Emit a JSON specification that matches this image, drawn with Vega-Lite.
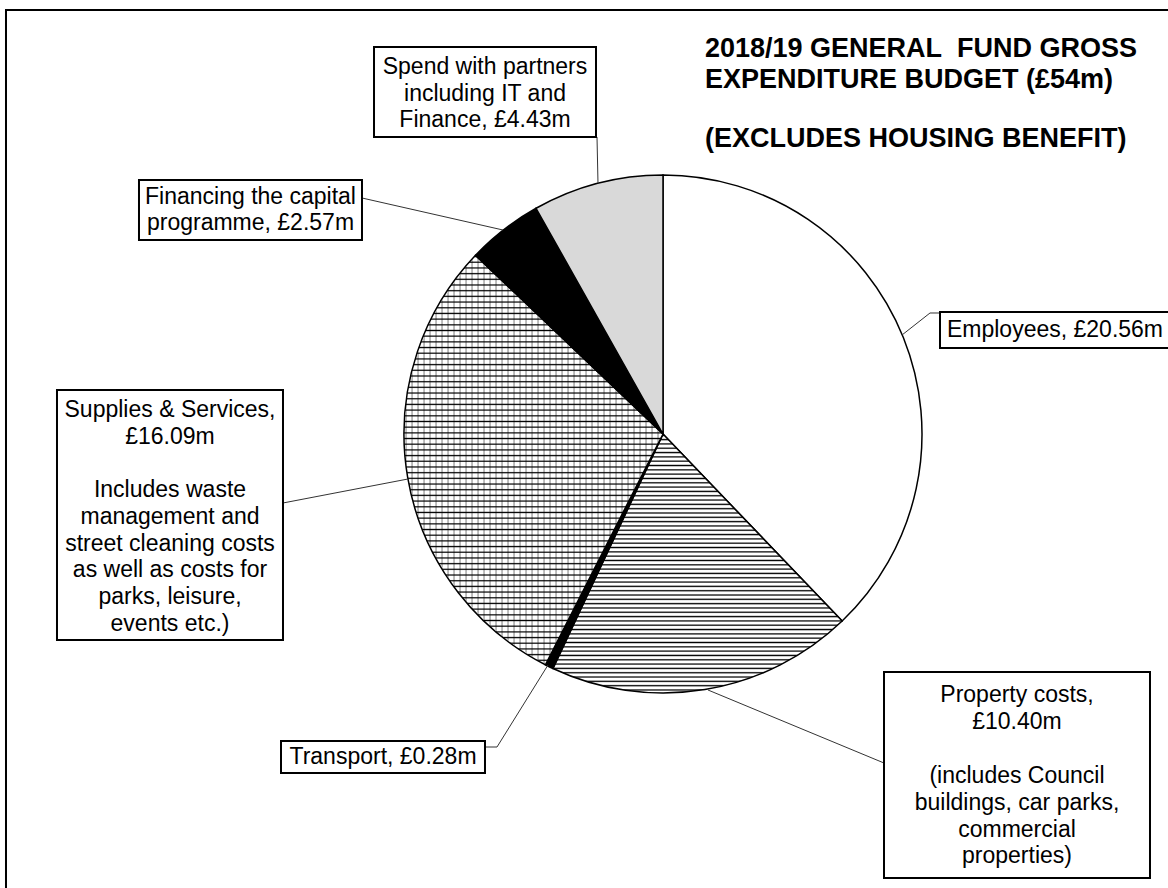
{
  "$schema": "https://vega.github.io/schema/vega-lite/v6.json",
  "width": 1010,
  "height": 868,
  "padding": {"left": 158, "top": 0, "right": 0, "bottom": 20},
  "autosize": {"type": "none"},
  "background": "white",
  "config": {"view": {"stroke": null}, "font": "Liberation Sans"},
  "data": {"values": [
    {"category": "Employees", "value": 20.56, "label": "Employees, £20.56m", "note": ""},
    {"category": "Property costs", "value": 10.40, "label": "Property costs,\n£10.40m", "note": "(includes Council\nbuildings, car parks,\ncommercial\nproperties)"},
    {"category": "Transport", "value": 0.28, "label": "Transport, £0.28m", "note": ""},
    {"category": "Supplies & Services", "value": 16.09, "label": "Supplies & Services,\n£16.09m", "note": "Includes waste\nmanagement and\nstreet cleaning costs\nas well as costs for\nparks, leisure,\nevents etc.)"},
    {"category": "Financing the capital programme", "value": 2.57, "label": "Financing the capital\nprogramme, £2.57m", "note": ""},
    {"category": "Spend with partners", "value": 4.43, "label": "Spend with partners\nincluding IT and\nFinance, £4.43m", "note": ""}
  ]},
  "layer": [
    {
      "mark": {"type": "arc", "radius": 259, "stroke": "#000", "strokeWidth": 1.5},
      "encoding": {
        "theta": {"field": "value", "type": "quantitative", "stack": true},
        "fill": {
          "condition": [
            {"test": "datum.category === 'Property costs'", "value": {"gradient": "linear", "x1": 0, "y1": 0, "x2": 0, "y2": 1, "stops": [
              {"offset":0,"color":"#fff"},{"offset":0.005,"color":"#000"},{"offset":0.01,"color":"#fff"},
              {"offset":0.0167,"color":"#fff"},{"offset":0.0217,"color":"#000"},{"offset":0.0267,"color":"#fff"},
              {"offset":0.0333,"color":"#fff"},{"offset":0.0383,"color":"#000"},{"offset":0.0433,"color":"#fff"},
              {"offset":0.05,"color":"#fff"},{"offset":0.055,"color":"#000"},{"offset":0.06,"color":"#fff"},
              {"offset":0.0667,"color":"#fff"},{"offset":0.0717,"color":"#000"},{"offset":0.0767,"color":"#fff"},
              {"offset":0.0833,"color":"#fff"},{"offset":0.0883,"color":"#000"},{"offset":0.0933,"color":"#fff"},
              {"offset":0.1,"color":"#fff"},{"offset":0.105,"color":"#000"},{"offset":0.11,"color":"#fff"},
              {"offset":0.1167,"color":"#fff"},{"offset":0.1217,"color":"#000"},{"offset":0.1267,"color":"#fff"},
              {"offset":0.1333,"color":"#fff"},{"offset":0.1383,"color":"#000"},{"offset":0.1433,"color":"#fff"},
              {"offset":0.15,"color":"#fff"},{"offset":0.155,"color":"#000"},{"offset":0.16,"color":"#fff"},
              {"offset":0.1667,"color":"#fff"},{"offset":0.1717,"color":"#000"},{"offset":0.1767,"color":"#fff"},
              {"offset":0.1833,"color":"#fff"},{"offset":0.1883,"color":"#000"},{"offset":0.1933,"color":"#fff"},
              {"offset":0.2,"color":"#fff"},{"offset":0.205,"color":"#000"},{"offset":0.21,"color":"#fff"},
              {"offset":0.2167,"color":"#fff"},{"offset":0.2217,"color":"#000"},{"offset":0.2267,"color":"#fff"},
              {"offset":0.2333,"color":"#fff"},{"offset":0.2383,"color":"#000"},{"offset":0.2433,"color":"#fff"},
              {"offset":0.25,"color":"#fff"},{"offset":0.255,"color":"#000"},{"offset":0.26,"color":"#fff"},
              {"offset":0.2667,"color":"#fff"},{"offset":0.2717,"color":"#000"},{"offset":0.2767,"color":"#fff"},
              {"offset":0.2833,"color":"#fff"},{"offset":0.2883,"color":"#000"},{"offset":0.2933,"color":"#fff"},
              {"offset":0.3,"color":"#fff"},{"offset":0.305,"color":"#000"},{"offset":0.31,"color":"#fff"},
              {"offset":0.3167,"color":"#fff"},{"offset":0.3217,"color":"#000"},{"offset":0.3267,"color":"#fff"},
              {"offset":0.3333,"color":"#fff"},{"offset":0.3383,"color":"#000"},{"offset":0.3433,"color":"#fff"},
              {"offset":0.35,"color":"#fff"},{"offset":0.355,"color":"#000"},{"offset":0.36,"color":"#fff"},
              {"offset":0.3667,"color":"#fff"},{"offset":0.3717,"color":"#000"},{"offset":0.3767,"color":"#fff"},
              {"offset":0.3833,"color":"#fff"},{"offset":0.3883,"color":"#000"},{"offset":0.3933,"color":"#fff"},
              {"offset":0.4,"color":"#fff"},{"offset":0.405,"color":"#000"},{"offset":0.41,"color":"#fff"},
              {"offset":0.4167,"color":"#fff"},{"offset":0.4217,"color":"#000"},{"offset":0.4267,"color":"#fff"},
              {"offset":0.4333,"color":"#fff"},{"offset":0.4383,"color":"#000"},{"offset":0.4433,"color":"#fff"},
              {"offset":0.45,"color":"#fff"},{"offset":0.455,"color":"#000"},{"offset":0.46,"color":"#fff"},
              {"offset":0.4667,"color":"#fff"},{"offset":0.4717,"color":"#000"},{"offset":0.4767,"color":"#fff"},
              {"offset":0.4833,"color":"#fff"},{"offset":0.4883,"color":"#000"},{"offset":0.4933,"color":"#fff"},
              {"offset":0.5,"color":"#fff"},{"offset":0.505,"color":"#000"},{"offset":0.51,"color":"#fff"},
              {"offset":0.5167,"color":"#fff"},{"offset":0.5217,"color":"#000"},{"offset":0.5267,"color":"#fff"},
              {"offset":0.5333,"color":"#fff"},{"offset":0.5383,"color":"#000"},{"offset":0.5433,"color":"#fff"},
              {"offset":0.55,"color":"#fff"},{"offset":0.555,"color":"#000"},{"offset":0.56,"color":"#fff"},
              {"offset":0.5667,"color":"#fff"},{"offset":0.5717,"color":"#000"},{"offset":0.5767,"color":"#fff"},
              {"offset":0.5833,"color":"#fff"},{"offset":0.5883,"color":"#000"},{"offset":0.5933,"color":"#fff"},
              {"offset":0.6,"color":"#fff"},{"offset":0.605,"color":"#000"},{"offset":0.61,"color":"#fff"},
              {"offset":0.6167,"color":"#fff"},{"offset":0.6217,"color":"#000"},{"offset":0.6267,"color":"#fff"},
              {"offset":0.6333,"color":"#fff"},{"offset":0.6383,"color":"#000"},{"offset":0.6433,"color":"#fff"},
              {"offset":0.65,"color":"#fff"},{"offset":0.655,"color":"#000"},{"offset":0.66,"color":"#fff"},
              {"offset":0.6667,"color":"#fff"},{"offset":0.6717,"color":"#000"},{"offset":0.6767,"color":"#fff"},
              {"offset":0.6833,"color":"#fff"},{"offset":0.6883,"color":"#000"},{"offset":0.6933,"color":"#fff"},
              {"offset":0.7,"color":"#fff"},{"offset":0.705,"color":"#000"},{"offset":0.71,"color":"#fff"},
              {"offset":0.7167,"color":"#fff"},{"offset":0.7217,"color":"#000"},{"offset":0.7267,"color":"#fff"},
              {"offset":0.7333,"color":"#fff"},{"offset":0.7383,"color":"#000"},{"offset":0.7433,"color":"#fff"},
              {"offset":0.75,"color":"#fff"},{"offset":0.755,"color":"#000"},{"offset":0.76,"color":"#fff"},
              {"offset":0.7667,"color":"#fff"},{"offset":0.7717,"color":"#000"},{"offset":0.7767,"color":"#fff"},
              {"offset":0.7833,"color":"#fff"},{"offset":0.7883,"color":"#000"},{"offset":0.7933,"color":"#fff"},
              {"offset":0.8,"color":"#fff"},{"offset":0.805,"color":"#000"},{"offset":0.81,"color":"#fff"},
              {"offset":0.8167,"color":"#fff"},{"offset":0.8217,"color":"#000"},{"offset":0.8267,"color":"#fff"},
              {"offset":0.8333,"color":"#fff"},{"offset":0.8383,"color":"#000"},{"offset":0.8433,"color":"#fff"},
              {"offset":0.85,"color":"#fff"},{"offset":0.855,"color":"#000"},{"offset":0.86,"color":"#fff"},
              {"offset":0.8667,"color":"#fff"},{"offset":0.8717,"color":"#000"},{"offset":0.8767,"color":"#fff"},
              {"offset":0.8833,"color":"#fff"},{"offset":0.8883,"color":"#000"},{"offset":0.8933,"color":"#fff"},
              {"offset":0.9,"color":"#fff"},{"offset":0.905,"color":"#000"},{"offset":0.91,"color":"#fff"},
              {"offset":0.9167,"color":"#fff"},{"offset":0.9217,"color":"#000"},{"offset":0.9267,"color":"#fff"},
              {"offset":0.9333,"color":"#fff"},{"offset":0.9383,"color":"#000"},{"offset":0.9433,"color":"#fff"},
              {"offset":0.95,"color":"#fff"},{"offset":0.955,"color":"#000"},{"offset":0.96,"color":"#fff"},
              {"offset":0.9667,"color":"#fff"},{"offset":0.9717,"color":"#000"},{"offset":0.9767,"color":"#fff"},
              {"offset":0.9833,"color":"#fff"},{"offset":0.9883,"color":"#000"},{"offset":0.9933,"color":"#fff"},
              {"offset":1,"color":"#fff"}
            ]}},
            {"test": "datum.category === 'Supplies & Services'", "value": {"gradient": "linear", "x1": 0, "y1": 0, "x2": 0, "y2": 1, "stops": [
              {"offset":0,"color":"#fff"},{"offset":0.003,"color":"#000"},{"offset":0.006,"color":"#fff"},
              {"offset":0.0139,"color":"#fff"},{"offset":0.0169,"color":"#000"},{"offset":0.0199,"color":"#fff"},
              {"offset":0.0278,"color":"#fff"},{"offset":0.0308,"color":"#000"},{"offset":0.0338,"color":"#fff"},
              {"offset":0.0417,"color":"#fff"},{"offset":0.0447,"color":"#000"},{"offset":0.0477,"color":"#fff"},
              {"offset":0.0556,"color":"#fff"},{"offset":0.0586,"color":"#000"},{"offset":0.0616,"color":"#fff"},
              {"offset":0.0694,"color":"#fff"},{"offset":0.0724,"color":"#000"},{"offset":0.0754,"color":"#fff"},
              {"offset":0.0833,"color":"#fff"},{"offset":0.0863,"color":"#000"},{"offset":0.0893,"color":"#fff"},
              {"offset":0.0972,"color":"#fff"},{"offset":0.1002,"color":"#000"},{"offset":0.1032,"color":"#fff"},
              {"offset":0.1111,"color":"#fff"},{"offset":0.1141,"color":"#000"},{"offset":0.1171,"color":"#fff"},
              {"offset":0.125,"color":"#fff"},{"offset":0.128,"color":"#000"},{"offset":0.131,"color":"#fff"},
              {"offset":0.1389,"color":"#fff"},{"offset":0.1419,"color":"#000"},{"offset":0.1449,"color":"#fff"},
              {"offset":0.1528,"color":"#fff"},{"offset":0.1558,"color":"#000"},{"offset":0.1588,"color":"#fff"},
              {"offset":0.1667,"color":"#fff"},{"offset":0.1697,"color":"#000"},{"offset":0.1727,"color":"#fff"},
              {"offset":0.1806,"color":"#fff"},{"offset":0.1836,"color":"#000"},{"offset":0.1866,"color":"#fff"},
              {"offset":0.1944,"color":"#fff"},{"offset":0.1974,"color":"#000"},{"offset":0.2004,"color":"#fff"},
              {"offset":0.2083,"color":"#fff"},{"offset":0.2113,"color":"#000"},{"offset":0.2143,"color":"#fff"},
              {"offset":0.2222,"color":"#fff"},{"offset":0.2252,"color":"#000"},{"offset":0.2282,"color":"#fff"},
              {"offset":0.2361,"color":"#fff"},{"offset":0.2391,"color":"#000"},{"offset":0.2421,"color":"#fff"},
              {"offset":0.25,"color":"#fff"},{"offset":0.253,"color":"#000"},{"offset":0.256,"color":"#fff"},
              {"offset":0.2639,"color":"#fff"},{"offset":0.2669,"color":"#000"},{"offset":0.2699,"color":"#fff"},
              {"offset":0.2778,"color":"#fff"},{"offset":0.2808,"color":"#000"},{"offset":0.2838,"color":"#fff"},
              {"offset":0.2917,"color":"#fff"},{"offset":0.2947,"color":"#000"},{"offset":0.2977,"color":"#fff"},
              {"offset":0.3056,"color":"#fff"},{"offset":0.3086,"color":"#000"},{"offset":0.3116,"color":"#fff"},
              {"offset":0.3194,"color":"#fff"},{"offset":0.3224,"color":"#000"},{"offset":0.3254,"color":"#fff"},
              {"offset":0.3333,"color":"#fff"},{"offset":0.3363,"color":"#000"},{"offset":0.3393,"color":"#fff"},
              {"offset":0.3472,"color":"#fff"},{"offset":0.3502,"color":"#000"},{"offset":0.3532,"color":"#fff"},
              {"offset":0.3611,"color":"#fff"},{"offset":0.3641,"color":"#000"},{"offset":0.3671,"color":"#fff"},
              {"offset":0.375,"color":"#fff"},{"offset":0.378,"color":"#000"},{"offset":0.381,"color":"#fff"},
              {"offset":0.3889,"color":"#fff"},{"offset":0.3919,"color":"#000"},{"offset":0.3949,"color":"#fff"},
              {"offset":0.4028,"color":"#fff"},{"offset":0.4058,"color":"#000"},{"offset":0.4088,"color":"#fff"},
              {"offset":0.4167,"color":"#fff"},{"offset":0.4197,"color":"#000"},{"offset":0.4227,"color":"#fff"},
              {"offset":0.4306,"color":"#fff"},{"offset":0.4336,"color":"#000"},{"offset":0.4366,"color":"#fff"},
              {"offset":0.4444,"color":"#fff"},{"offset":0.4474,"color":"#000"},{"offset":0.4504,"color":"#fff"},
              {"offset":0.4583,"color":"#fff"},{"offset":0.4613,"color":"#000"},{"offset":0.4643,"color":"#fff"},
              {"offset":0.4722,"color":"#fff"},{"offset":0.4752,"color":"#000"},{"offset":0.4782,"color":"#fff"},
              {"offset":0.4861,"color":"#fff"},{"offset":0.4891,"color":"#000"},{"offset":0.4921,"color":"#fff"},
              {"offset":0.5,"color":"#fff"},{"offset":0.503,"color":"#000"},{"offset":0.506,"color":"#fff"},
              {"offset":0.5139,"color":"#fff"},{"offset":0.5169,"color":"#000"},{"offset":0.5199,"color":"#fff"},
              {"offset":0.5278,"color":"#fff"},{"offset":0.5308,"color":"#000"},{"offset":0.5338,"color":"#fff"},
              {"offset":0.5417,"color":"#fff"},{"offset":0.5447,"color":"#000"},{"offset":0.5477,"color":"#fff"},
              {"offset":0.5556,"color":"#fff"},{"offset":0.5586,"color":"#000"},{"offset":0.5616,"color":"#fff"},
              {"offset":0.5694,"color":"#fff"},{"offset":0.5724,"color":"#000"},{"offset":0.5754,"color":"#fff"},
              {"offset":0.5833,"color":"#fff"},{"offset":0.5863,"color":"#000"},{"offset":0.5893,"color":"#fff"},
              {"offset":0.5972,"color":"#fff"},{"offset":0.6002,"color":"#000"},{"offset":0.6032,"color":"#fff"},
              {"offset":0.6111,"color":"#fff"},{"offset":0.6141,"color":"#000"},{"offset":0.6171,"color":"#fff"},
              {"offset":0.625,"color":"#fff"},{"offset":0.628,"color":"#000"},{"offset":0.631,"color":"#fff"},
              {"offset":0.6389,"color":"#fff"},{"offset":0.6419,"color":"#000"},{"offset":0.6449,"color":"#fff"},
              {"offset":0.6528,"color":"#fff"},{"offset":0.6558,"color":"#000"},{"offset":0.6588,"color":"#fff"},
              {"offset":0.6667,"color":"#fff"},{"offset":0.6697,"color":"#000"},{"offset":0.6727,"color":"#fff"},
              {"offset":0.6806,"color":"#fff"},{"offset":0.6836,"color":"#000"},{"offset":0.6866,"color":"#fff"},
              {"offset":0.6944,"color":"#fff"},{"offset":0.6974,"color":"#000"},{"offset":0.7004,"color":"#fff"},
              {"offset":0.7083,"color":"#fff"},{"offset":0.7113,"color":"#000"},{"offset":0.7143,"color":"#fff"},
              {"offset":0.7222,"color":"#fff"},{"offset":0.7252,"color":"#000"},{"offset":0.7282,"color":"#fff"},
              {"offset":0.7361,"color":"#fff"},{"offset":0.7391,"color":"#000"},{"offset":0.7421,"color":"#fff"},
              {"offset":0.75,"color":"#fff"},{"offset":0.753,"color":"#000"},{"offset":0.756,"color":"#fff"},
              {"offset":0.7639,"color":"#fff"},{"offset":0.7669,"color":"#000"},{"offset":0.7699,"color":"#fff"},
              {"offset":0.7778,"color":"#fff"},{"offset":0.7808,"color":"#000"},{"offset":0.7838,"color":"#fff"},
              {"offset":0.7917,"color":"#fff"},{"offset":0.7947,"color":"#000"},{"offset":0.7977,"color":"#fff"},
              {"offset":0.8056,"color":"#fff"},{"offset":0.8086,"color":"#000"},{"offset":0.8116,"color":"#fff"},
              {"offset":0.8194,"color":"#fff"},{"offset":0.8224,"color":"#000"},{"offset":0.8254,"color":"#fff"},
              {"offset":0.8333,"color":"#fff"},{"offset":0.8363,"color":"#000"},{"offset":0.8393,"color":"#fff"},
              {"offset":0.8472,"color":"#fff"},{"offset":0.8502,"color":"#000"},{"offset":0.8532,"color":"#fff"},
              {"offset":0.8611,"color":"#fff"},{"offset":0.8641,"color":"#000"},{"offset":0.8671,"color":"#fff"},
              {"offset":0.875,"color":"#fff"},{"offset":0.878,"color":"#000"},{"offset":0.881,"color":"#fff"},
              {"offset":0.8889,"color":"#fff"},{"offset":0.8919,"color":"#000"},{"offset":0.8949,"color":"#fff"},
              {"offset":0.9028,"color":"#fff"},{"offset":0.9058,"color":"#000"},{"offset":0.9088,"color":"#fff"},
              {"offset":0.9167,"color":"#fff"},{"offset":0.9197,"color":"#000"},{"offset":0.9227,"color":"#fff"},
              {"offset":0.9306,"color":"#fff"},{"offset":0.9336,"color":"#000"},{"offset":0.9366,"color":"#fff"},
              {"offset":0.9444,"color":"#fff"},{"offset":0.9474,"color":"#000"},{"offset":0.9504,"color":"#fff"},
              {"offset":0.9583,"color":"#fff"},{"offset":0.9613,"color":"#000"},{"offset":0.9643,"color":"#fff"},
              {"offset":0.9722,"color":"#fff"},{"offset":0.9752,"color":"#000"},{"offset":0.9782,"color":"#fff"},
              {"offset":0.9861,"color":"#fff"},{"offset":0.9891,"color":"#000"},{"offset":0.9921,"color":"#fff"},
              {"offset":1,"color":"#fff"}
            ]}},
            {"test": "datum.category === 'Transport'", "value": "#000000"},
            {"test": "datum.category === 'Financing the capital programme'", "value": "#000000"},
            {"test": "datum.category === 'Spend with partners'", "value": "#d9d9d9"}
          ],
          "value": "#ffffff"
        }
      }
    },
    {
      "mark": {"type": "arc", "radius": 258, "strokeWidth": 0},
      "encoding": {
        "theta": {"field": "value", "type": "quantitative", "stack": true},
        "fill": {
          "condition": [
            {"test": "datum.category === 'Supplies & Services'", "value": {"gradient": "linear", "x1": 0, "y1": 0, "x2": 1, "y2": 0, "stops": [
              {"offset":0,"color":"rgba(0,0,0,0)"},{"offset":0.004,"color":"rgba(0,0,0,0.5)"},{"offset":0.008,"color":"rgba(0,0,0,0)"},
              {"offset":0.0233,"color":"rgba(0,0,0,0)"},{"offset":0.0273,"color":"rgba(0,0,0,0.5)"},{"offset":0.0313,"color":"rgba(0,0,0,0)"},
              {"offset":0.0465,"color":"rgba(0,0,0,0)"},{"offset":0.0505,"color":"rgba(0,0,0,0.5)"},{"offset":0.0545,"color":"rgba(0,0,0,0)"},
              {"offset":0.0698,"color":"rgba(0,0,0,0)"},{"offset":0.0738,"color":"rgba(0,0,0,0.5)"},{"offset":0.0778,"color":"rgba(0,0,0,0)"},
              {"offset":0.093,"color":"rgba(0,0,0,0)"},{"offset":0.097,"color":"rgba(0,0,0,0.5)"},{"offset":0.101,"color":"rgba(0,0,0,0)"},
              {"offset":0.1163,"color":"rgba(0,0,0,0)"},{"offset":0.1203,"color":"rgba(0,0,0,0.5)"},{"offset":0.1243,"color":"rgba(0,0,0,0)"},
              {"offset":0.1395,"color":"rgba(0,0,0,0)"},{"offset":0.1435,"color":"rgba(0,0,0,0.5)"},{"offset":0.1475,"color":"rgba(0,0,0,0)"},
              {"offset":0.1628,"color":"rgba(0,0,0,0)"},{"offset":0.1668,"color":"rgba(0,0,0,0.5)"},{"offset":0.1708,"color":"rgba(0,0,0,0)"},
              {"offset":0.186,"color":"rgba(0,0,0,0)"},{"offset":0.19,"color":"rgba(0,0,0,0.5)"},{"offset":0.194,"color":"rgba(0,0,0,0)"},
              {"offset":0.2093,"color":"rgba(0,0,0,0)"},{"offset":0.2133,"color":"rgba(0,0,0,0.5)"},{"offset":0.2173,"color":"rgba(0,0,0,0)"},
              {"offset":0.2326,"color":"rgba(0,0,0,0)"},{"offset":0.2366,"color":"rgba(0,0,0,0.5)"},{"offset":0.2406,"color":"rgba(0,0,0,0)"},
              {"offset":0.2558,"color":"rgba(0,0,0,0)"},{"offset":0.2598,"color":"rgba(0,0,0,0.5)"},{"offset":0.2638,"color":"rgba(0,0,0,0)"},
              {"offset":0.2791,"color":"rgba(0,0,0,0)"},{"offset":0.2831,"color":"rgba(0,0,0,0.5)"},{"offset":0.2871,"color":"rgba(0,0,0,0)"},
              {"offset":0.3023,"color":"rgba(0,0,0,0)"},{"offset":0.3063,"color":"rgba(0,0,0,0.5)"},{"offset":0.3103,"color":"rgba(0,0,0,0)"},
              {"offset":0.3256,"color":"rgba(0,0,0,0)"},{"offset":0.3296,"color":"rgba(0,0,0,0.5)"},{"offset":0.3336,"color":"rgba(0,0,0,0)"},
              {"offset":0.3488,"color":"rgba(0,0,0,0)"},{"offset":0.3528,"color":"rgba(0,0,0,0.5)"},{"offset":0.3568,"color":"rgba(0,0,0,0)"},
              {"offset":0.3721,"color":"rgba(0,0,0,0)"},{"offset":0.3761,"color":"rgba(0,0,0,0.5)"},{"offset":0.3801,"color":"rgba(0,0,0,0)"},
              {"offset":0.3953,"color":"rgba(0,0,0,0)"},{"offset":0.3993,"color":"rgba(0,0,0,0.5)"},{"offset":0.4033,"color":"rgba(0,0,0,0)"},
              {"offset":0.4186,"color":"rgba(0,0,0,0)"},{"offset":0.4226,"color":"rgba(0,0,0,0.5)"},{"offset":0.4266,"color":"rgba(0,0,0,0)"},
              {"offset":0.4419,"color":"rgba(0,0,0,0)"},{"offset":0.4459,"color":"rgba(0,0,0,0.5)"},{"offset":0.4499,"color":"rgba(0,0,0,0)"},
              {"offset":0.4651,"color":"rgba(0,0,0,0)"},{"offset":0.4691,"color":"rgba(0,0,0,0.5)"},{"offset":0.4731,"color":"rgba(0,0,0,0)"},
              {"offset":0.4884,"color":"rgba(0,0,0,0)"},{"offset":0.4924,"color":"rgba(0,0,0,0.5)"},{"offset":0.4964,"color":"rgba(0,0,0,0)"},
              {"offset":0.5116,"color":"rgba(0,0,0,0)"},{"offset":0.5156,"color":"rgba(0,0,0,0.5)"},{"offset":0.5196,"color":"rgba(0,0,0,0)"},
              {"offset":0.5349,"color":"rgba(0,0,0,0)"},{"offset":0.5389,"color":"rgba(0,0,0,0.5)"},{"offset":0.5429,"color":"rgba(0,0,0,0)"},
              {"offset":0.5581,"color":"rgba(0,0,0,0)"},{"offset":0.5621,"color":"rgba(0,0,0,0.5)"},{"offset":0.5661,"color":"rgba(0,0,0,0)"},
              {"offset":0.5814,"color":"rgba(0,0,0,0)"},{"offset":0.5854,"color":"rgba(0,0,0,0.5)"},{"offset":0.5894,"color":"rgba(0,0,0,0)"},
              {"offset":0.6047,"color":"rgba(0,0,0,0)"},{"offset":0.6087,"color":"rgba(0,0,0,0.5)"},{"offset":0.6127,"color":"rgba(0,0,0,0)"},
              {"offset":0.6279,"color":"rgba(0,0,0,0)"},{"offset":0.6319,"color":"rgba(0,0,0,0.5)"},{"offset":0.6359,"color":"rgba(0,0,0,0)"},
              {"offset":0.6512,"color":"rgba(0,0,0,0)"},{"offset":0.6552,"color":"rgba(0,0,0,0.5)"},{"offset":0.6592,"color":"rgba(0,0,0,0)"},
              {"offset":0.6744,"color":"rgba(0,0,0,0)"},{"offset":0.6784,"color":"rgba(0,0,0,0.5)"},{"offset":0.6824,"color":"rgba(0,0,0,0)"},
              {"offset":0.6977,"color":"rgba(0,0,0,0)"},{"offset":0.7017,"color":"rgba(0,0,0,0.5)"},{"offset":0.7057,"color":"rgba(0,0,0,0)"},
              {"offset":0.7209,"color":"rgba(0,0,0,0)"},{"offset":0.7249,"color":"rgba(0,0,0,0.5)"},{"offset":0.7289,"color":"rgba(0,0,0,0)"},
              {"offset":0.7442,"color":"rgba(0,0,0,0)"},{"offset":0.7482,"color":"rgba(0,0,0,0.5)"},{"offset":0.7522,"color":"rgba(0,0,0,0)"},
              {"offset":0.7674,"color":"rgba(0,0,0,0)"},{"offset":0.7714,"color":"rgba(0,0,0,0.5)"},{"offset":0.7754,"color":"rgba(0,0,0,0)"},
              {"offset":0.7907,"color":"rgba(0,0,0,0)"},{"offset":0.7947,"color":"rgba(0,0,0,0.5)"},{"offset":0.7987,"color":"rgba(0,0,0,0)"},
              {"offset":0.814,"color":"rgba(0,0,0,0)"},{"offset":0.818,"color":"rgba(0,0,0,0.5)"},{"offset":0.822,"color":"rgba(0,0,0,0)"},
              {"offset":0.8372,"color":"rgba(0,0,0,0)"},{"offset":0.8412,"color":"rgba(0,0,0,0.5)"},{"offset":0.8452,"color":"rgba(0,0,0,0)"},
              {"offset":0.8605,"color":"rgba(0,0,0,0)"},{"offset":0.8645,"color":"rgba(0,0,0,0.5)"},{"offset":0.8685,"color":"rgba(0,0,0,0)"},
              {"offset":0.8837,"color":"rgba(0,0,0,0)"},{"offset":0.8877,"color":"rgba(0,0,0,0.5)"},{"offset":0.8917,"color":"rgba(0,0,0,0)"},
              {"offset":0.907,"color":"rgba(0,0,0,0)"},{"offset":0.911,"color":"rgba(0,0,0,0.5)"},{"offset":0.915,"color":"rgba(0,0,0,0)"},
              {"offset":0.9302,"color":"rgba(0,0,0,0)"},{"offset":0.9342,"color":"rgba(0,0,0,0.5)"},{"offset":0.9382,"color":"rgba(0,0,0,0)"},
              {"offset":0.9535,"color":"rgba(0,0,0,0)"},{"offset":0.9575,"color":"rgba(0,0,0,0.5)"},{"offset":0.9615,"color":"rgba(0,0,0,0)"},
              {"offset":0.9767,"color":"rgba(0,0,0,0)"},{"offset":0.9807,"color":"rgba(0,0,0,0.5)"},{"offset":0.9847,"color":"rgba(0,0,0,0)"},
              {"offset":1,"color":"rgba(0,0,0,0)"}
            ]}}
          ],
          "value": "transparent"
        }
      }
    },
    {
      "transform": [{"filter": "datum.category === 'Employees'"}],
      "mark": {"type": "point", "shape": "M0.9228,-0.3822L1.0309,-0.4672L1.0695,-0.4672M0.1737,0.9884L0.8533,1.2703M-0.444,0.8919L-0.6409,1.2085L-0.6873,1.2085M-0.9846,0.1737L-1.4672,0.2664M-0.6178,-0.7876L-1.1622,-0.9112M-0.251,-0.9691L-0.2548,-1.1467", "size": 268324, "filled": false, "stroke": "#333333", "strokeWidth": 1, "opacity": 1},
      "encoding": {}
    },
    {
      "transform": [{"filter": "datum.category === 'Employees'"}],
      "mark": {"type": "point", "shape": "M-2.5367,1.78V-1.6371H1.98M-1.1158,-1.4942H-0.2587V-1.1467H-1.1158ZM-2.0232,-0.9807H-1.1622V-0.749H-2.0232ZM-2.3398,-0.1699H-1.4672V0.7954H-2.3398ZM-1.4749,1.1853H-0.6873V1.3089H-1.4749ZM0.8533,0.9189H1.8803V1.7143H0.8533ZM1.0695,-0.471H1.9807V-0.332H1.0695Z", "size": 268324, "filled": false, "stroke": "#000000", "strokeWidth": 2, "opacity": 1},
      "encoding": {}
    },
    {
      "transform": [{"filter": "datum.category === 'Employees'"}],
      "mark": {"type": "text", "dx": 392, "dy": -104, "align": "center", "baseline": "middle", "fontSize": 23, "lineHeight": 26.8, "lineBreak": "\n", "color": "#000"},
      "encoding": {"text": {"field": "label", "type": "nominal"}}
    },
    {
      "transform": [{"filter": "datum.category === 'Property costs'"}],
      "mark": {"type": "text", "dx": 354, "dy": 261, "align": "center", "baseline": "middle", "fontSize": 23, "lineHeight": 26.8, "lineBreak": "\n", "color": "#000"},
      "encoding": {"text": {"field": "label", "type": "nominal"}}
    },
    {
      "transform": [{"filter": "datum.category === 'Property costs'"}],
      "mark": {"type": "text", "dx": 354, "dy": 342, "align": "center", "baseline": "middle", "fontSize": 23, "lineHeight": 26.8, "lineBreak": "\n", "color": "#000"},
      "encoding": {"text": {"field": "note", "type": "nominal"}}
    },
    {
      "transform": [{"filter": "datum.category === 'Transport'"}],
      "mark": {"type": "text", "dx": -280, "dy": 323, "align": "center", "baseline": "middle", "fontSize": 23, "lineHeight": 26.8, "lineBreak": "\n", "color": "#000"},
      "encoding": {"text": {"field": "label", "type": "nominal"}}
    },
    {
      "transform": [{"filter": "datum.category === 'Supplies & Services'"}],
      "mark": {"type": "text", "dx": -493, "dy": -24, "align": "center", "baseline": "middle", "fontSize": 23, "lineHeight": 26.8, "lineBreak": "\n", "color": "#000"},
      "encoding": {"text": {"field": "label", "type": "nominal"}}
    },
    {
      "transform": [{"filter": "datum.category === 'Supplies & Services'"}],
      "mark": {"type": "text", "dx": -493, "dy": 56, "align": "center", "baseline": "middle", "fontSize": 23, "lineHeight": 26.8, "lineBreak": "\n", "color": "#000"},
      "encoding": {"text": {"field": "note", "type": "nominal"}}
    },
    {
      "transform": [{"filter": "datum.category === 'Financing the capital programme'"}],
      "mark": {"type": "text", "dx": -412.5, "dy": -237.4, "align": "center", "baseline": "middle", "fontSize": 23, "lineHeight": 26.8, "lineBreak": "\n", "color": "#000"},
      "encoding": {"text": {"field": "label", "type": "nominal"}}
    },
    {
      "transform": [{"filter": "datum.category === 'Spend with partners'"}],
      "mark": {"type": "text", "dx": -178, "dy": -367, "align": "center", "baseline": "middle", "fontSize": 23, "lineHeight": 26.5, "lineBreak": "\n", "color": "#000"},
      "encoding": {"text": {"field": "label", "type": "nominal"}}
    },
    {
      "transform": [{"filter": "datum.category === 'Employees'"}],
      "mark": {"type": "text", "text": ["2018/19 GENERAL\u00a0 FUND GROSS", "EXPENDITURE BUDGET (£54m)"], "dx": 42, "dy": -385, "align": "left", "baseline": "middle", "fontSize": 27, "fontWeight": "bold", "lineHeight": 31, "color": "#000"},
      "encoding": {}
    },
    {
      "transform": [{"filter": "datum.category === 'Employees'"}],
      "mark": {"type": "text", "text": "(EXCLUDES HOUSING BENEFIT)", "dx": 42, "dy": -295, "align": "left", "baseline": "middle", "fontSize": 27, "fontWeight": "bold", "color": "#000"},
      "encoding": {}
    }
  ]
}
